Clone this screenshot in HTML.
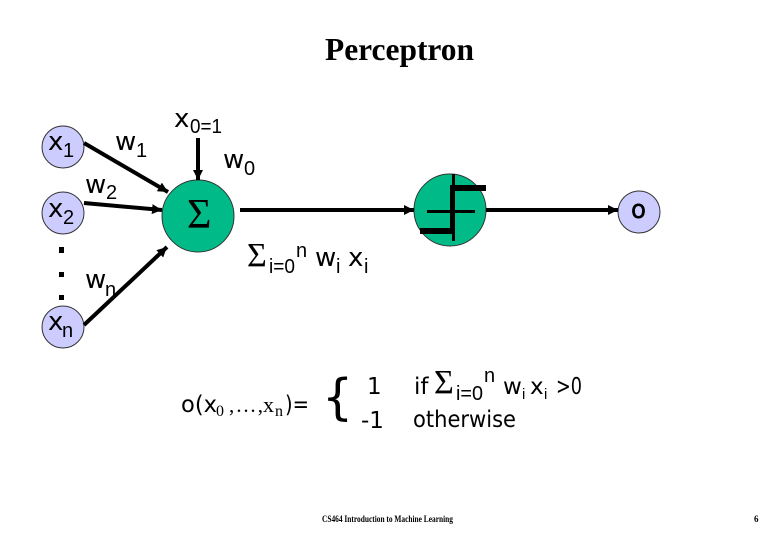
<!DOCTYPE html>
<html><head><meta charset="utf-8"><style>
html,body{margin:0;padding:0;background:#fff}
svg{display:block}
text{font-family:"DejaVu Sans",sans-serif;fill:#000}
.s{font-family:"Liberation Serif",serif}
.l{font-family:"Liberation Sans",sans-serif;font-size:20px}
.m{font-size:26px}
.e{font-size:23px}
.t{font-family:"Liberation Sans",sans-serif;font-size:15px}
</style></head><body>
<svg width="780" height="540" viewBox="0 0 780 540" xmlns="http://www.w3.org/2000/svg">
<defs>
<marker id="a" markerUnits="userSpaceOnUse" markerWidth="12" markerHeight="12" refX="10" refY="5" orient="auto"><path d="M0 0L10 5L0 10z" fill="#000"/></marker>
</defs>
<text x="325" y="60" class="s" font-size="32" font-weight="bold" textLength="149" lengthAdjust="spacingAndGlyphs">Perceptron</text>
<g stroke="#333" stroke-width="1" fill="#ccccff">
<circle cx="63" cy="147" r="21"/><circle cx="63" cy="213" r="21"/><circle cx="63" cy="327" r="21"/><circle cx="639" cy="212" r="21"/>
</g>
<g stroke="#333" stroke-width="1" fill="#00bb88">
<circle cx="198" cy="216" r="36"/><circle cx="450" cy="210" r="36"/>
</g>
<g stroke="#000" stroke-width="4" fill="none">
<line x1="84" y1="143" x2="168" y2="192" marker-end="url(#a)"/>
<line x1="84" y1="203" x2="162" y2="210" marker-end="url(#a)"/>
<line x1="84" y1="325" x2="167" y2="247" marker-end="url(#a)"/>
<line x1="198" y1="138" x2="198" y2="180" marker-end="url(#a)"/>
<line x1="240" y1="210" x2="414" y2="210" marker-end="url(#a)"/>
<line x1="486" y1="210" x2="618" y2="210" marker-end="url(#a)"/>
</g>
<g fill="#000">
<rect x="427" y="210" width="48" height="3"/>
<rect x="452" y="174" width="3" height="67"/>
<rect x="420" y="228" width="33" height="6"/>
<rect x="450" y="185" width="36" height="6"/>
<rect x="450" y="185" width="4" height="49"/>
<rect x="59" y="247" width="5" height="6"/><rect x="59" y="272" width="5" height="5"/><rect x="59" y="295" width="5" height="5"/>
</g>

<text x="48" y="150" class="m">x</text><text x="63" y="157" class="l">1</text>
<text x="48" y="217" class="m">x</text><text x="63" y="224" class="l">2</text>
<text x="48" y="330" class="m">x</text><text x="62" y="337" class="l">n</text>
<text x="115" y="150" class="m">w</text><text x="136" y="157" class="l">1</text>
<text x="85" y="193" class="m">w</text><text x="106" y="199" class="l">2</text>
<text x="85" y="288" class="m">w</text><text x="105" y="296" class="l">n</text>
<text x="174" y="127" class="m">x</text><text x="190" y="133" class="l" textLength="32" lengthAdjust="spacingAndGlyphs">0=1</text>
<text x="223" y="168" class="m">w</text><text x="244" y="175" class="l">0</text>
<text x="631" y="218" class="m" stroke="#000" stroke-width=".5" textLength="15" lengthAdjust="spacingAndGlyphs">o</text>

<text x="187" y="228" class="s" font-size="42">&#931;</text>

<text x="247" y="266" class="s" font-size="34">&#931;</text>
<text x="269" y="273" class="l" textLength="26" lengthAdjust="spacingAndGlyphs">i=0</text>
<text x="296" y="257" class="l">n</text>
<text x="315" y="266" class="m">w</text><text x="336" y="273" class="l">i</text>
<text x="348" y="266" class="m">x</text><text x="364" y="273" class="l">i</text>

<text x="181" y="412" class="e" textLength="36" lengthAdjust="spacingAndGlyphs">o(x</text>
<text x="216" y="416" class="s" font-size="16">0</text>
<text x="229" y="412" class="s" font-size="21" textLength="34" lengthAdjust="spacing">,&#8230;,</text>
<text x="263" y="412" class="s" font-size="22">x</text>
<text x="275" y="416" class="s" font-size="16">n</text>
<text x="285" y="412" class="e" textLength="24" lengthAdjust="spacingAndGlyphs">)=</text>

<text x="322" y="414" font-size="49">{</text>

<text x="367" y="394" class="e">1</text>
<text x="361" y="428" class="e">-1</text>
<text x="414" y="394" class="e">if</text>
<text x="434" y="393" class="s" font-size="34">&#931;</text>
<text x="456" y="400" class="l" textLength="27" lengthAdjust="spacingAndGlyphs">i=0</text>
<text x="484" y="382" class="l">n</text>
<text x="503" y="394" class="e">w</text><text x="522" y="399" class="t">i</text>
<text x="530" y="394" class="e">x</text><text x="544" y="399" class="t">i</text>
<text x="556" y="394" class="e" textLength="26" lengthAdjust="spacingAndGlyphs">&gt;0</text>
<text x="413" y="427" class="e" textLength="103" lengthAdjust="spacingAndGlyphs">otherwise</text>

<text x="322" y="522" class="s" font-size="9" font-weight="bold" textLength="131" lengthAdjust="spacingAndGlyphs">CS464 Introduction to Machine Learning</text>
<text x="754" y="522" class="s" font-size="9" font-weight="bold">6</text>
</svg>
</body></html>
